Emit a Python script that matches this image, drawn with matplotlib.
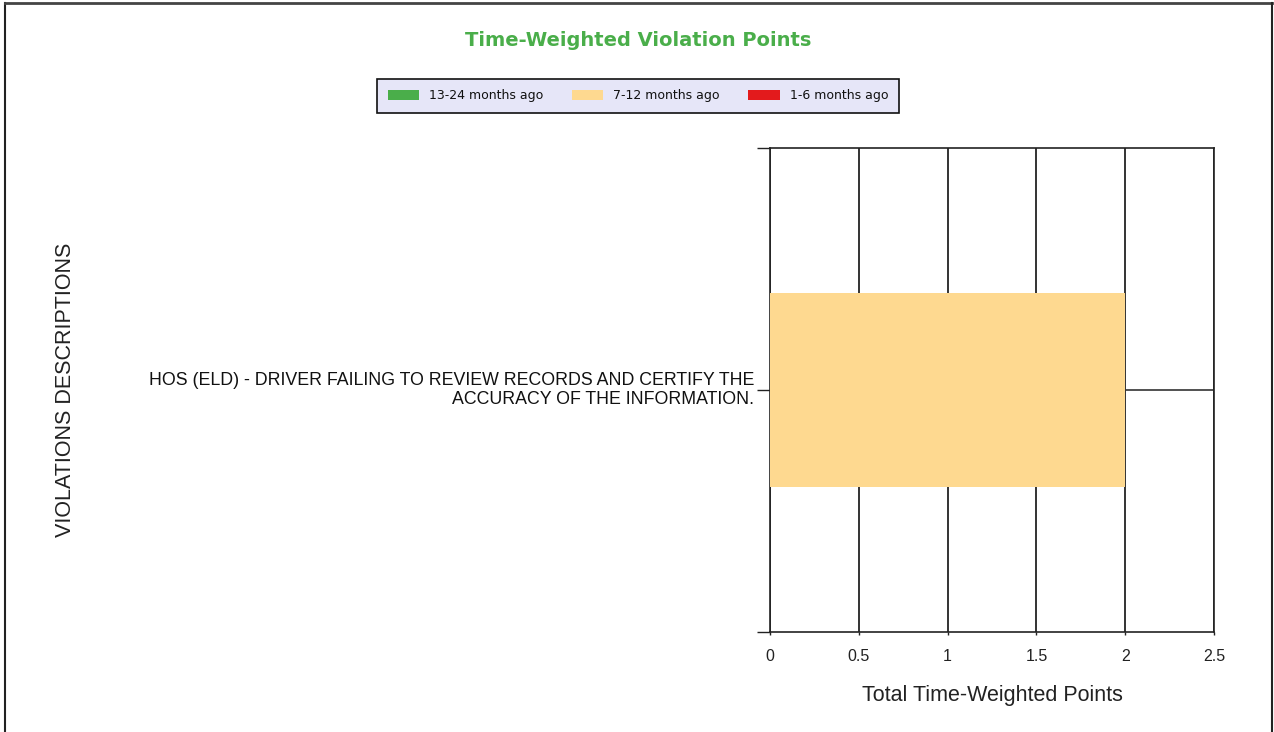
import matplotlib.pyplot as plt
from matplotlib.patches import Patch
from matplotlib.lines import Line2D

# data
violations = ["HOS (ELD) - DRIVER FAILING TO REVIEW RECORDS AND CERTIFY THE\nACCURACY OF THE INFORMATION."]
pts_13_24 = [0.0]
pts_7_12 = [2.0]
pts_1_6 = [0.0]
series_names = ["13-24 months ago", "7-12 months ago", "1-6 months ago"]
series_colors = ["#4aae4a", "#fed990", "#e31a1c"]
x_ticks = [0, 0.5, 1, 1.5, 2, 2.5]

fig = plt.figure(figsize=(12.74, 7.32), dpi=100)
ax = fig.add_axes([770 / 1274, 1 - 632 / 732, 444 / 1274, 484 / 732])

ypos = list(range(len(violations)))
left = [0.0] * len(violations)
for vals, c in zip([pts_13_24, pts_7_12, pts_1_6], series_colors):
    ax.barh(ypos, vals, left=left, height=0.4, color=c, zorder=3)
    left = [l + v for l, v in zip(left, vals)]

ax.set_xlim(0, 2.5)
ax.set_ylim(-0.5, len(violations) - 0.5)
ax.set_xticks(x_ticks)
ax.set_xticklabels([f"{t:g}" for t in x_ticks], fontsize=11.5, family="Liberation Sans", color="#222222")
ax.set_yticks(ypos)
ax.set_yticklabels(violations, fontsize=12.8, family="Liberation Sans", linespacing=1.18, color="#111111",
                   va="center")
ax.set_yticks([-0.5, len(violations) - 0.5], minor=True)
ax.tick_params(axis="y", which="both", length=9.5, width=1, color="#222222", pad=2)
ax.tick_params(axis="x", length=2, width=1, color="#222222", pad=10)
for lbl in ax.get_yticklabels():
    lbl.set_y(lbl.get_position()[1] + 0.005)

ax.grid(True, axis="x", color="#111111", linewidth=1.2, zorder=1)
ax.grid(True, axis="y", color="#333333", linewidth=1.2, zorder=1)
for s in ["left", "top", "bottom", "right"]:
    ax.spines[s].set_color("#222222")
    ax.spines[s].set_linewidth(1.2)

ax.set_xlabel("Total Time-Weighted Points", fontsize=15.5, family="Liberation Sans", labelpad=15, color="#222222")
fig.text(66 / 1274, 1 - 390 / 732, "VIOLATIONS DESCRIPTIONS", rotation=90, ha="center", va="center",
         fontsize=15.5, family="Liberation Sans", color="#222222")

fig.text(638 / 1274, 1 - 40 / 732, "Time-Weighted Violation Points", ha="center", va="center",
         fontsize=14, fontweight="bold", color="#4aae4a")

handles = [Patch(facecolor=c, edgecolor="none") for c in series_colors]
leg = fig.legend(handles, series_names, loc="center", bbox_to_anchor=(638 / 1274, 1 - 96 / 732),
                 ncol=3, fontsize=9, frameon=True, fancybox=False, handlelength=2.5, handleheight=0.9,
                 columnspacing=2.3, handletextpad=0.8, borderpad=0.85)
for t in leg.get_texts():
    t.set_color("#111111")
leg.get_frame().set_facecolor("#e6e6f8")
leg.get_frame().set_edgecolor("#111111")
leg.get_frame().set_linewidth(1.2)
leg.get_frame().set_alpha(1)

# page frame
fig.add_artist(Line2D([5 / 1274, 5 / 1274], [0, 1 - 3 / 732], transform=fig.transFigure, color="#222222", lw=1.5))
fig.add_artist(Line2D([5 / 1274, 1272 / 1274], [1 - 3 / 732, 1 - 3 / 732], transform=fig.transFigure, color="#444444", lw=2))
fig.add_artist(Line2D([1272 / 1274, 1272 / 1274], [0, 1 - 3 / 732], transform=fig.transFigure, color="#222222", lw=1.5))

fig.savefig("out.png", dpi=100)
